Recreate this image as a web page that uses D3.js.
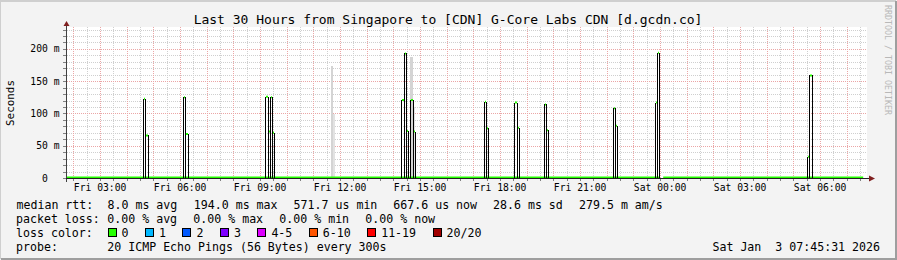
<!DOCTYPE html>
<html>
<head>
<meta charset="utf-8">
<script src="https://cdn.jsdelivr.net/npm/d3@7"></script>
<style>
  body { margin: 0; background: #f3f3f3; }
  svg { display: block; }
  text { font-family: "DejaVu Sans Mono", monospace; white-space: pre; }
</style>
</head>
<body>
<svg id="chart" width="897" height="260"></svg>
<script>
// chart data
const title = "Last 30 Hours from Singapore to [CDN] G-Core Labs CDN [d.gcdn.co]";
const timeRange = ["2026-01-02 01:45:31", "2026-01-03 07:45:31"];
const yMaxMs = 234;
const yTicksMs = [0, 50, 100, 150, 200];
const yTickLabels = ["0  ", "50 m", "100 m", "150 m", "200 m"];
const stepMinutes = 5;

// median rtt spikes: start of first 5-min sample, then the values (ms) of consecutive samples
const spikeStarts = [
  "2026-01-02 04:37", "2026-01-02 06:07", "2026-01-02 09:12", "2026-01-02 14:18",
  "2026-01-02 14:38", "2026-01-02 17:23", "2026-01-02 18:32", "2026-01-02 19:38",
  "2026-01-02 22:13", "2026-01-02 23:48", "2026-01-03 05:31"
];
const spikeValues = [
  [123, 66], [125, 68], [126, 72, 125, 70], [121, 193, 73],
  [121, 72], [118, 77], [117, 78], [114, 74],
  [108, 81], [117, 194], [33, 159]
];

// smoke (ping spread) columns where the median stayed low
const smokeStarts = ["2026-01-02 11:39", "2026-01-02 11:44", "2026-01-02 14:38", "2026-01-02 14:43"];
const smokeTops = [174, 99, 188, 110];
const smokeShades = ["#d4d4d4", "#e2e2e2", "#d4d4d4", "#e2e2e2"];

// quiet periods of the median line (gap = no data)
const baseStarts = ["2026-01-02 01:45:31", "2026-01-03 00:07"];
const baseEnds = ["2026-01-02 23:58", "2026-01-03 07:37"];
const baseMs = 0.65;

const statsRtt = ["median rtt:", "8.0 ms avg", "194.0 ms max", "571.7 us min", "667.6 us now", "28.6 ms sd", "279.5 m am/s"];
const statsLoss = ["packet loss:", "0.00 % avg", "0.00 % max", "0.00 % min", "0.00 % now"];
const lossLabels = ["0", "1", "2", "3", "4-5", "6-10", "11-19", "20/20"];
const lossColors = ["#26ff00", "#00b8ff", "#0059ff", "#7e00ff", "#dd00ff", "#ff5500", "#ff0000", "#a10000"];
const probeText = "20 ICMP Echo Pings (56 Bytes) every 300s";
const stampText = "Sat Jan  3 07:45:31 2026";
const watermark = "RRDTOOL / TOBI OETIKER";

const parseSec = d3.timeParse("%Y-%m-%d %H:%M:%S");
const parseMin = d3.timeParse("%Y-%m-%d %H:%M");
const parse = (s) => parseSec(s) || parseMin(s);

const svg = d3.select("#chart");
const W = 897, H = 260;
const plot = { left: 67, right: 867, top: 27, bottom: 178 };

const x = d3.scaleTime().domain(timeRange.map(parse)).range([plot.left, plot.right]);
const y = d3.scaleLinear().domain([0, yMaxMs]).range([plot.bottom, plot.top]);

// frame
svg.append("rect").attr("width", W).attr("height", H).attr("fill", "#f3f3f3");
svg.append("path").attr("d", `M0,${H - 1}V1H${W - 1}`).attr("stroke", "#cfcfcf").attr("stroke-width", 2).attr("fill", "none");
svg.append("path").attr("d", `M1,${H - 1}H${W - 1}V1`).attr("stroke", "#9e9e9e").attr("stroke-width", 2).attr("fill", "none");

svg.append("rect")
  .attr("x", plot.left).attr("y", plot.top)
  .attr("width", plot.right - plot.left).attr("height", plot.bottom - plot.top)
  .attr("fill", "#ffffff");

// grid
const grid = svg.append("g").attr("shape-rendering", "crispEdges");
const hours = x.ticks(d3.timeHour.every(1));
const halfHours = x.ticks(d3.timeMinute.every(30)).filter((t) => t.getMinutes() !== 0);
const minorY = d3.range(10, yMaxMs, 10).filter((v) => v % 50 !== 0);

grid.selectAll(".vmin").data(halfHours).join("line")
  .attr("x1", (d) => Math.round(x(d)) + 0.5).attr("x2", (d) => Math.round(x(d)) + 0.5)
  .attr("y1", plot.top).attr("y2", plot.bottom)
  .attr("stroke", "#cfcfcf").attr("stroke-dasharray", "1,1");
grid.selectAll(".hmin").data(minorY).join("line")
  .attr("x1", plot.left).attr("x2", plot.right)
  .attr("y1", (d) => Math.round(y(d)) + 0.5).attr("y2", (d) => Math.round(y(d)) + 0.5)
  .attr("stroke", "#cfcfcf").attr("stroke-dasharray", "1,1");
grid.selectAll(".vmaj").data(hours).join("line")
  .attr("x1", (d) => Math.round(x(d)) + 0.5).attr("x2", (d) => Math.round(x(d)) + 0.5)
  .attr("y1", plot.top).attr("y2", plot.bottom)
  .attr("stroke", "#eba6a6").attr("stroke-dasharray", "1,1");
grid.selectAll(".hmaj").data(yTicksMs.filter((v) => v > 0)).join("line")
  .attr("x1", plot.left).attr("x2", plot.right)
  .attr("y1", (d) => Math.round(y(d)) + 0.5).attr("y2", (d) => Math.round(y(d)) + 0.5)
  .attr("stroke", "#eba6a6").attr("stroke-dasharray", "1,1");

// smoke
const step = (t, k) => d3.timeMinute.offset(t, k * stepMinutes);
svg.append("g").attr("shape-rendering", "crispEdges").selectAll("rect")
  .data(smokeStarts.map((s, i) => ({ t: parse(s), v: smokeTops[i], c: smokeShades[i] })))
  .join("rect")
  .attr("x", (d) => x(d.t)).attr("width", (d) => x(step(d.t, 1)) - x(d.t))
  .attr("y", (d) => y(d.v)).attr("height", (d) => y(0) - y(d.v))
  .attr("fill", (d) => d.c);

// median baseline
const base = baseStarts.map((s, i) => [parse(s), parse(baseEnds[i])]);
svg.append("g").selectAll("line").data(base).join("line")
  .attr("x1", (d) => x(d[0])).attr("x2", (d) => x(d[1]))
  .attr("y1", y(baseMs)).attr("y2", y(baseMs))
  .attr("stroke", lossColors[0]).attr("stroke-width", 2);

// median spikes, one outline per 5-min sample
const samples = [];
spikeStarts.forEach((s, i) => {
  const t0 = parse(s);
  spikeValues[i].forEach((v, j) => samples.push({ a: step(t0, j), b: step(t0, j + 1), v }));
});
const spikes = svg.append("g");
spikes.selectAll(".side").data(samples.flatMap((d) => [{ t: d.a, v: d.v }, { t: d.b, v: d.v }]))
  .join("line")
  .attr("x1", (d) => Math.round(x(d.t)) + 0.5).attr("x2", (d) => Math.round(x(d.t)) + 0.5)
  .attr("y1", y(0)).attr("y2", (d) => y(d.v))
  .attr("stroke", "#000").attr("stroke-width", 1.2)
  .attr("shape-rendering", "crispEdges");
spikes.selectAll(".top").data(samples).join("line")
  .attr("x1", (d) => Math.round(x(d.a)) + 1).attr("x2", (d) => Math.round(x(d.b)))
  .attr("y1", (d) => y(d.v)).attr("y2", (d) => y(d.v))
  .attr("stroke", lossColors[0]).attr("stroke-width", 2);

// axes
const axis = svg.append("g").attr("shape-rendering", "crispEdges");
axis.append("line").attr("x1", plot.left - 0.5).attr("x2", plot.left - 0.5)
  .attr("y1", plot.top - 1).attr("y2", plot.bottom + 4).attr("stroke", "#404040");
axis.append("line").attr("x1", plot.left - 4).attr("x2", plot.right + 2)
  .attr("y1", plot.bottom + 0.5).attr("y2", plot.bottom + 0.5).attr("stroke", "#202020");
axis.selectAll(".yt").data(d3.range(0, yMaxMs, 10)).join("line")
  .attr("x1", plot.left - 4).attr("x2", plot.left - 1)
  .attr("y1", (d) => Math.round(y(d)) + 0.5).attr("y2", (d) => Math.round(y(d)) + 0.5)
  .attr("stroke", "#808080");
axis.selectAll(".xt").data(x.ticks(d3.timeMinute.every(30))).join("line")
  .attr("x1", (d) => Math.round(x(d)) + 0.5).attr("x2", (d) => Math.round(x(d)) + 0.5)
  .attr("y1", plot.bottom + 1).attr("y2", plot.bottom + 3)
  .attr("stroke", "#808080");

svg.append("path").attr("d", `M${plot.left - 3.5},${plot.top - 1}L${plot.left - 0.5},${plot.top - 6}L${plot.left + 2.5},${plot.top - 1}Z`)
  .attr("fill", "#7f1f1f");
svg.append("path").attr("d", `M${plot.right + 2},${plot.bottom - 2.5}L${plot.right + 8},${plot.bottom + 0.5}L${plot.right + 2},${plot.bottom + 3.5}Z`)
  .attr("fill", "#7f1f1f");

svg.append("g").selectAll("text").data(yTicksMs).join("text")
  .attr("x", 59.5).attr("y", (d) => y(d) + 3.5)
  .attr("text-anchor", "end").attr("font-size", 9.7).attr("fill", "#000")
  .text((d, i) => yTickLabels[i]);

const fmt = d3.timeFormat("%a %H:%M");
svg.append("g").selectAll("text").data(x.ticks(d3.timeHour.every(3))).join("text")
  .attr("x", (d) => x(d)).attr("y", 190.5)
  .attr("text-anchor", "middle").attr("font-size", 9.7).attr("fill", "#000")
  .text(fmt);

svg.append("text").attr("transform", "translate(14,103) rotate(-90)")
  .attr("text-anchor", "middle").attr("font-size", 10.9).text("Seconds");

svg.append("text").attr("x", 448).attr("y", 23.5)
  .attr("text-anchor", "middle").attr("font-size", 13).text(title);

svg.append("text").attr("transform", "translate(885,5) rotate(90)")
  .attr("font-size", 8.3).attr("fill", "#b8b8b8").text(watermark);

// legend
const legend = svg.append("g").attr("font-size", 11.6).attr("fill", "#000");
const rttX = [16.5, 107.5, 193.8, 293.6, 393.3, 493, 579];
const lossX = [16, 107.3, 193.3, 279.3, 365.3];
legend.selectAll(".rtt").data(statsRtt).join("text")
  .attr("x", (d, i) => rttX[i]).attr("y", 208.5).text((d) => d);
legend.selectAll(".loss").data(statsLoss).join("text")
  .attr("x", (d, i) => lossX[i]).attr("y", 222.5).text((d) => d);
legend.append("text").attr("x", 16).attr("y", 236.5).text("loss color:");

const cw = 6.97;
let bx = 107.5;
lossLabels.forEach((lab, i) => {
  legend.append("rect").attr("x", Math.round(bx) + 0.5).attr("y", 228.5)
    .attr("width", 8).attr("height", 8)
    .attr("fill", lossColors[i]).attr("stroke", "#000").attr("shape-rendering", "crispEdges");
  legend.append("text").attr("x", bx + 14).attr("y", 236.5).text(lab);
  bx += 14 + lab.length * cw + 16.5;
});

legend.append("text").attr("x", 16).attr("y", 250.5).text("probe:");
legend.append("text").attr("x", 107.3).attr("y", 250.5).text(probeText);
legend.append("text").attr("x", 880).attr("y", 250.5).attr("text-anchor", "end").text(stampText);
</script>
</body>
</html>
